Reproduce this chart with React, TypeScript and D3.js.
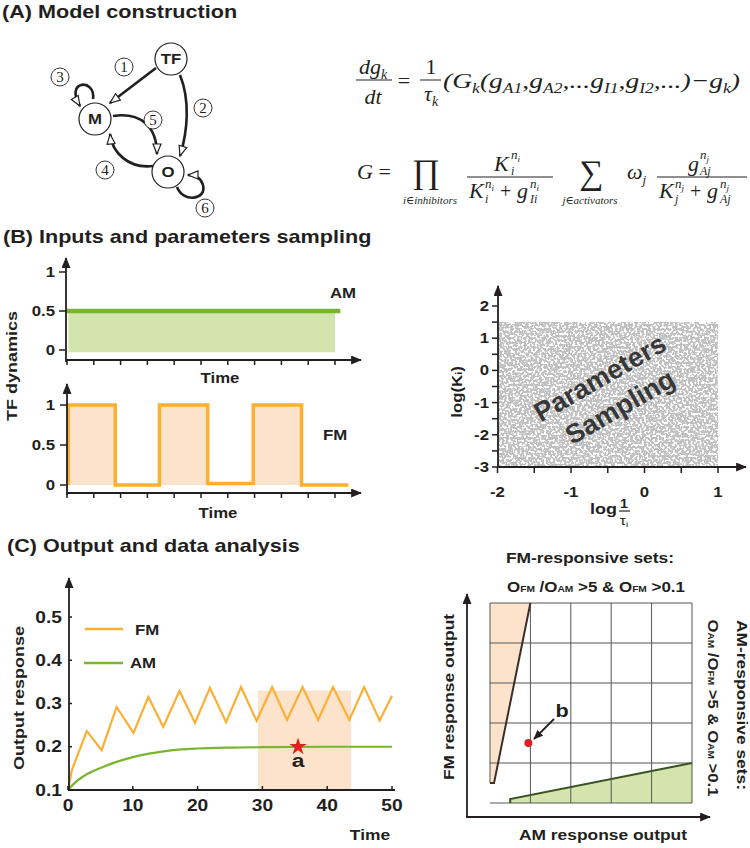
import React from 'react';
import * as d3 from 'd3';

const SANS = "'Liberation Sans', Arial, Helvetica, sans-serif";
const SERIF = "'Liberation Serif', 'Times New Roman', 'DejaVu Serif', serif";
const INK = '#231f20';
const ORANGE = '#fbb034';
const PEACH = '#fde3cc';
const GREEN = '#7ab531';
const GREEN_FILL = '#d3e5ad';
const RED = '#e31e24';
const SX = 1.2;

// ---------- Panel B: inputs ----------
const bTimeTicks = [0, 1, 2, 3, 4, 5, 6, 7, 8, 9, 10];
const amTicks = [0, 0.5, 1];
const amTicksLabels = ['0', '0.5', '1'];
const amTime = [-0.05, 10.2];
const amLevel = [0.5, 0.5];
const amFillTime = [0.05, 10];
const amFillLow = -0.03;
const fmTime = [0.05, 0.05, 1.8, 1.8, 3.45, 3.45, 5.25, 5.25, 6.95, 6.95, 8.75, 8.75, 10.5];
const fmLevel = [0, 1, 1, 0, 0, 1, 1, 0.02, 0.02, 1, 1, 0, 0];
const fmPulseStart = [0.05, 3.45, 6.95];
const fmPulseEnd = [1.8, 5.25, 8.75];

// ---------- Panel B: parameter sampling ----------
const logTauRange = [-2, 1];
const logKRange = [-3, 1.5];
const sampXTicks = [-2, -1.5, -1, -0.5, 0, 0.5, 1];
const sampYTicks = [-3, -2.5, -2, -1.5, -1, -0.5, 0, 0.5, 1, 1.5, 2];

// ---------- Panel C: output ----------
const outTimeTicks = [0, 10, 20, 30, 40, 50];
const outValueTicks = [0.1, 0.2, 0.3, 0.4, 0.5];
const fmOutT = [0, 0.6, 2.9, 5.2, 7.5, 10.1, 12.4, 14.7, 17.2, 19.6, 21.9, 24.4, 26.7, 29.1, 31.5, 33.8, 36.2, 38.6, 40.9, 43.4, 45.7, 48.1, 50];
const fmOutV = [0.1, 0.146, 0.236, 0.192, 0.292, 0.232, 0.315, 0.246, 0.329, 0.255, 0.336, 0.257, 0.338, 0.26, 0.338, 0.262, 0.338, 0.262, 0.338, 0.262, 0.338, 0.261, 0.318];
const amOutT = [0, 1, 2.5, 5, 7.5, 10, 12.5, 15, 17.5, 20, 25, 30, 40, 50];
const amOutV = [0.1, 0.116, 0.133, 0.151, 0.165, 0.176, 0.184, 0.19, 0.194, 0.196, 0.198, 0.199, 0.2, 0.2];
const windowT = [29.3, 43.7];
const windowTop = 0.33;
const pointA = { t: 35.5, v: 0.2 };

// ---------- Panel C: classification ----------
const gridTicks = [0, 0.2, 0.4, 0.6, 0.8, 1];
const ratioThreshold = 5;
const minOutput = 0.1;
const pointB = { am: 0.19, fm: 0.3 };

function T({ x, y, children, size = 14, anchor = 'start', weight = 700, rot = 0, family = SANS, fill = INK, sx = SX, italic = false }: any) {
  return (
    <text transform={`translate(${x},${y}) rotate(${rot}) scale(${sx},1)`} fontSize={size} textAnchor={anchor}
      fontWeight={weight} fontFamily={family} fill={fill} fontStyle={italic ? 'italic' : 'normal'}>{children}</text>
  );
}

function SubText({ x, y, parts, size, subSize, textLength }: any) {
  let level = 0;
  return (
    <text x={x} y={y} fontFamily={SERIF} fontStyle="italic" fontSize={size} fill={INK}
      textLength={textLength} lengthAdjust="spacingAndGlyphs">
      {parts.map(([s, sub]: [string, boolean], i: number) => {
        const target = sub ? 5 : 0;
        const dy = target - level;
        level = target;
        return <tspan key={i} dy={dy} fontSize={sub ? subSize : size}>{s}</tspan>;
      })}
    </text>
  );
}

function Circled({ x, y, n }: any) {
  return (
    <g>
      <circle cx={x} cy={y} r={9} fill="white" stroke={INK} strokeWidth={0.9} />
      <text x={x} y={y + 5} textAnchor="middle" fontFamily={SERIF} fontSize={15} fill={INK}>{n}</text>
    </g>
  );
}

function Node({ x, y, label }: any) {
  return (
    <g>
      <circle cx={x} cy={y} r={16} fill="white" stroke={INK} strokeWidth={1.2} />
      <T x={x} y={y + 5} size={14} anchor="middle">{label}</T>
    </g>
  );
}

export default function App() {
  // scales
  const xB = d3.scaleLinear().domain([0, 10]).range([67, 335]);
  const yAM = d3.scaleLinear().domain([0, 1]).range([350, 272]);
  const yFM = d3.scaleLinear().domain([0, 1]).range([485, 405]);
  const xS = d3.scaleLinear().domain([-2, 1]).range([497.5, 718]);
  const yS = d3.scaleLinear().domain([-3, 2]).range([467, 306]);
  const xC = d3.scaleLinear().domain([0, 50]).range([68, 392]);
  const yC = d3.scaleLinear().domain([0.1, 0.5]).range([790, 617]);
  const xR = d3.scaleLinear().domain([0, 1]).range([490, 692]);
  const yR = d3.scaleLinear().domain([0, 1]).range([803, 603]);

  const amLine = d3.line<number>().x((d, i) => xB(amTime[i])).y(d => yAM(d))(amLevel) || '';
  const amArea = d3.area<number>().x(d => xB(d)).y0(yAM(amFillLow)).y1(yAM(0.5))(amFillTime) || '';
  const fmLine = d3.line<number>().x((d, i) => xB(fmTime[i])).y(d => yFM(d))(fmLevel) || '';

  const fmOutPath = d3.line<number>().x((d, i) => xC(fmOutT[i])).y(d => yC(d))(fmOutV) || '';
  const amOutPath = d3.line<number>().x((d, i) => xC(amOutT[i])).y(d => yC(d)).curve(d3.curveMonotoneX)(amOutV) || '';
  const star = d3.symbol().type(d3.symbolStar).size(95)() || '';

  const fmPoly: [number, number][] = [[0, 1], [1 / ratioThreshold, 1], [minOutput / ratioThreshold, minOutput], [0, minOutput]];
  const fmEdge: [number, number][] = [[1 / ratioThreshold, 1], [minOutput / ratioThreshold, minOutput], [0, minOutput]];
  const amPoly: [number, number][] = [[minOutput, 0], [minOutput, minOutput / ratioThreshold], [1, 1 / ratioThreshold], [1, 0]];
  const amEdge: [number, number][] = [[minOutput, 0], [minOutput, minOutput / ratioThreshold], [1, 1 / ratioThreshold]];
  const rLine = d3.line<[number, number]>().x(d => xR(d[0])).y(d => yR(d[1]));

  const eq1Parts: [string, boolean][] = [
    ['(G', false], ['k', true], ['(g', false], ['A1', true], [',g', false], ['A2', true], [',...g', false],
    ['I1', true], [',g', false], ['I2', true], [',...)\u2212g', false], ['k', true], [')', false],
  ];

  const axisStroke = { stroke: INK, strokeWidth: 1.8, fill: 'none' };

  return (
    <svg width={750} height={848} style={{ position: 'absolute', left: 0, top: 0, background: 'white' }}>
      <defs>
        <marker id="hollow" viewBox="0 0 12 10" refX="11" refY="5" markerWidth="12" markerHeight="10" orient="auto" markerUnits="userSpaceOnUse">
          <path d="M1,1 L11,5 L1,9 Z" fill="white" stroke={INK} strokeWidth={1.2} />
        </marker>
        <marker id="solid" viewBox="0 0 12 10" refX="11" refY="5" markerWidth="12" markerHeight="9" orient="auto" markerUnits="userSpaceOnUse">
          <path d="M0,0 L12,5 L0,10 Z" fill={INK} />
        </marker>
        <marker id="solidSmall" viewBox="0 0 12 10" refX="11" refY="5" markerWidth="10" markerHeight="8" orient="auto" markerUnits="userSpaceOnUse">
          <path d="M0,0 L12,5 L0,10 Z" fill={INK} />
        </marker>
        <filter id="speckle" x="0%" y="0%" width="100%" height="100%">
          <feTurbulence type="fractalNoise" baseFrequency="0.45" numOctaves="1" seed="7" result="n" />
          <feColorMatrix in="n" type="matrix" values="0 0 0 0 0.53  0 0 0 0 0.53  0 0 0 0 0.53  12 0 0 0 -5.0" />
        </filter>
      </defs>

      {/* ================= Panel A ================= */}
      <T x={2} y={18} size={18}>(A) Model construction</T>

      {/* network */}
      <g fill="none" stroke={INK} strokeWidth={2.6}>
        <path d="M156,68 L110,103" markerEnd="url(#hollow)" />
        <path d="M180,75 C190,100 188,130 180,156" markerEnd="url(#hollow)" />
        <path d="M93,99 C96,78 64,80 80,106" markerEnd="url(#hollow)" />
        <path d="M153,166 C128,169 112,152 110,134" markerEnd="url(#hollow)" />
        <path d="M113,116 C140,112 157,126 157,154" markerEnd="url(#hollow)" />
        <path d="M177,187 C183,203 207,200 203,185 C201,178 196,175 188,175" markerEnd="url(#hollow)" />
      </g>
      <Node x={171} y={59} label="TF" />
      <Node x={95} y={119} label="M" />
      <Node x={168} y={172} label="O" />
      <Circled x={124} y={67} n="1" />
      <Circled x={203} y={108} n="2" />
      <Circled x={60} y={77} n="3" />
      <Circled x={105} y={170} n="4" />
      <Circled x={153} y={120} n="5" />
      <Circled x={205} y={208} n="6" />

      {/* equation 1 */}
      <g fill={INK} fontFamily={SERIF}>
        <text x={373} y={74} textAnchor="middle" fontStyle="italic" fontSize={22}>dg<tspan dy={5} fontSize={14}>k</tspan></text>
        <line x1={356} x2={392} y1={80} y2={80} stroke={INK} strokeWidth={1} />
        <text x={373} y={104} textAnchor="middle" fontStyle="italic" fontSize={22}>dt</text>
        <text x={404} y={88} textAnchor="middle" fontSize={22}>=</text>
        <text x={431} y={74} textAnchor="middle" fontSize={22}>1</text>
        <line x1={420} x2={441} y1={80} y2={80} stroke={INK} strokeWidth={1} />
        <text x={424} y={101} fontStyle="italic" fontSize={22}>τ<tspan dy={5} fontSize={14}>k</tspan></text>
      </g>
      <SubText x={443} y={88} parts={eq1Parts} size={22} subSize={14} textLength={297} />

      {/* equation 2 */}
      <g fill={INK} fontFamily={SERIF}>
        <text x={357} y={179} fontStyle="italic" fontSize={22}>G<tspan fontStyle="normal"> =</tspan></text>
        <text x={426} y={183} textAnchor="middle" fontSize={34}>∏</text>
        <text x={430} y={204} textAnchor="middle" fontStyle="italic" fontSize={11}>i∈inhibitors</text>
        {/* fraction 1 */}
        <text x={494} y={171} fontStyle="italic" fontSize={22}>K</text>
        <text x={511} y={159} fontStyle="italic" fontSize={13}>n<tspan dy={3} fontSize={9}>i</tspan></text>
        <text x={511} y={175} fontStyle="italic" fontSize={12}>i</text>
        <line x1={467} x2={553} y1={177} y2={177} stroke={INK} strokeWidth={1} />
        <text x={469} y={198} fontStyle="italic" fontSize={22}>K</text>
        <text x={485} y={188} fontStyle="italic" fontSize={13}>n<tspan dy={3} fontSize={9}>i</tspan></text>
        <text x={485} y={203} fontStyle="italic" fontSize={12}>i</text>
        <text x={500} y={198} fontSize={20}>+</text>
        <text x={517} y={198} fontStyle="italic" fontSize={22}>g</text>
        <text x={530} y={188} fontStyle="italic" fontSize={13}>n<tspan dy={3} fontSize={9}>i</tspan></text>
        <text x={530} y={203} fontStyle="italic" fontSize={12}>Ii</text>
        {/* sum */}
        <text x={591} y={184} textAnchor="middle" fontSize={34}>∑</text>
        <text x={590} y={204} textAnchor="middle" fontStyle="italic" fontSize={11}>j∈activators</text>
        <text x={627} y={179} fontStyle="italic" fontSize={22}>ω<tspan dy={5} fontSize={13}>j</tspan></text>
        {/* fraction 2 */}
        <text x={688} y={171} fontStyle="italic" fontSize={22}>g</text>
        <text x={700} y={159} fontStyle="italic" fontSize={13}>n<tspan dy={3} fontSize={9}>j</tspan></text>
        <text x={700} y={175} fontStyle="italic" fontSize={12}>Aj</text>
        <line x1={657} x2={747} y1={177} y2={177} stroke={INK} strokeWidth={1} />
        <text x={659} y={198} fontStyle="italic" fontSize={22}>K</text>
        <text x={675} y={188} fontStyle="italic" fontSize={13}>n<tspan dy={3} fontSize={9}>j</tspan></text>
        <text x={675} y={203} fontStyle="italic" fontSize={12}>j</text>
        <text x={690} y={198} fontSize={20}>+</text>
        <text x={707} y={198} fontStyle="italic" fontSize={22}>g</text>
        <text x={720} y={188} fontStyle="italic" fontSize={13}>n<tspan dy={3} fontSize={9}>j</tspan></text>
        <text x={720} y={203} fontStyle="italic" fontSize={12}>Aj</text>
      </g>

      {/* ================= Panel B ================= */}
      <T x={3} y={243} size={18}>(B) Inputs and parameters sampling</T>

      {/* AM input */}
      <path d={amArea} fill={GREEN_FILL} />
      <path d={amLine} fill="none" stroke={GREEN} strokeWidth={4.5} />
      <line x1={66} x2={66} y1={362} y2={258} {...axisStroke} markerEnd="url(#solid)" />
      <line x1={66} x2={361} y1={360} y2={360} {...axisStroke} markerEnd="url(#solid)" />
      {bTimeTicks.map(t => <line key={'ba' + t} x1={xB(t)} x2={xB(t)} y1={360} y2={365} stroke={INK} strokeWidth={1.5} />)}
      {amTicks.map((v, i) => (
        <g key={'amt' + v}>
          <line x1={59} x2={66} y1={yAM(v)} y2={yAM(v)} stroke={INK} strokeWidth={1.5} />
          <T x={55} y={yAM(v) + 5} anchor="end">{amTicksLabels[i]}</T>
        </g>
      ))}
      <T x={330} y={298}>AM</T>
      <T x={220} y={383} anchor="middle">Time</T>
      <T x={17} y={366} rot={-90} anchor="middle" size={15}>TF dynamics</T>

      {/* FM input */}
      {fmPulseStart.map((s, i) => (
        <rect key={'p' + i} x={xB(s)} y={yFM(1)} width={xB(fmPulseEnd[i]) - xB(s)} height={yFM(0) - yFM(1)} fill={PEACH} />
      ))}
      <path d={fmLine} fill="none" stroke={ORANGE} strokeWidth={3.5} strokeLinejoin="miter" />
      <line x1={67} x2={67} y1={495} y2={384} {...axisStroke} markerEnd="url(#solid)" />
      <line x1={67} x2={361} y1={493} y2={493} {...axisStroke} markerEnd="url(#solid)" />
      {bTimeTicks.map(t => <line key={'bf' + t} x1={xB(t)} x2={xB(t)} y1={493} y2={498} stroke={INK} strokeWidth={1.5} />)}
      {amTicks.map((v, i) => (
        <g key={'fmt' + v}>
          <line x1={60} x2={67} y1={yFM(v)} y2={yFM(v)} stroke={INK} strokeWidth={1.5} />
          <T x={55} y={yFM(v) + 5} anchor="end">{amTicksLabels[i]}</T>
        </g>
      ))}
      <T x={335} y={440} anchor="middle">FM</T>
      <T x={218} y={518} anchor="middle">Time</T>

      {/* parameters sampling */}
      <rect x={xS(logTauRange[0]) + 1} y={yS(logKRange[1])} width={xS(logTauRange[1]) - xS(logTauRange[0]) - 1}
        height={yS(logKRange[0]) - yS(logKRange[1])} fill="#888" filter="url(#speckle)" />
      <g transform="translate(600,378) rotate(-30)">
        <text x={0} y={9} textAnchor="middle" fontFamily={SANS} fontWeight={700} fontSize={27} fill="#383838">Parameters</text>
      </g>
      <g transform="translate(620,407) rotate(-30)">
        <text x={0} y={9} textAnchor="middle" fontFamily={SANS} fontWeight={700} fontSize={27} fill="#383838">Sampling</text>
      </g>
      <line x1={498} x2={498} y1={468} y2={286} {...axisStroke} markerEnd="url(#solid)" />
      <line x1={497} x2={746} y1={467} y2={467} {...axisStroke} markerEnd="url(#solid)" />
      {sampYTicks.map(v => (
        <g key={'sy' + v}>
          <line x1={492} x2={498} y1={yS(v)} y2={yS(v)} stroke={INK} strokeWidth={1.5} />
          {Number.isInteger(v) && <T x={489} y={yS(v) + 5} anchor="end">{v < 0 ? '-' + Math.abs(v) : String(v)}</T>}
        </g>
      ))}
      {sampXTicks.map(v => (
        <g key={'sx' + v}>
          <line x1={xS(v)} x2={xS(v)} y1={467} y2={473} stroke={INK} strokeWidth={1.5} />
          {Number.isInteger(v) && <T x={xS(v)} y={497} anchor="middle">{v < 0 ? '-' + Math.abs(v) : String(v)}</T>}
        </g>
      ))}
      <T x={462} y={392} rot={-90} anchor="middle">log(K<tspan fontSize={9}>i</tspan>)</T>
      <T x={590} y={514} size={15}>log</T>
      <T x={624} y={508} size={12} anchor="middle">1</T>
      <line x1={619} x2={630} y1={511} y2={511} stroke={INK} strokeWidth={1.2} />
      <T x={624} y={525} size={13} anchor="middle" weight={400}>τ<tspan fontSize={8} dy={2}>i</tspan></T>

      {/* ================= Panel C ================= */}
      <T x={7} y={552} size={18}>(C) Output and data analysis</T>

      {/* output time course */}
      <rect x={xC(windowT[0])} y={yC(windowTop)} width={xC(windowT[1]) - xC(windowT[0])} height={yC(0.1) - yC(windowTop)} fill={PEACH} />
      <path d={amOutPath} fill="none" stroke={GREEN} strokeWidth={2.2} />
      <path d={fmOutPath} fill="none" stroke={ORANGE} strokeWidth={2.2} strokeLinejoin="miter" />
      <line x1={69} x2={69} y1={791} y2={578} {...axisStroke} markerEnd="url(#solid)" />
      <line x1={68} x2={395} y1={790} y2={790} {...axisStroke} />
      {outTimeTicks.map(t => (
        <g key={'ot' + t}>
          <line x1={xC(t)} x2={xC(t)} y1={786} y2={790} stroke={INK} strokeWidth={1.5} />
          <T x={xC(t)} y={811} anchor="middle" size={16}>{String(t)}</T>
        </g>
      ))}
      {outValueTicks.map(v => (
        <g key={'ov' + v}>
          <line x1={69} x2={72} y1={yC(v)} y2={yC(v)} stroke={INK} strokeWidth={1.5} />
          <T x={62} y={yC(v) + 5.5} anchor="end" size={16}>{v.toFixed(1)}</T>
        </g>
      ))}
      <line x1={85} x2={123} y1={629} y2={629} stroke={ORANGE} strokeWidth={2.5} />
      <T x={135} y={635}>FM</T>
      <line x1={84} x2={123} y1={663} y2={663} stroke={GREEN} strokeWidth={2.5} />
      <T x={130} y={668}>AM</T>
      <path d={star} transform={`translate(${xC(pointA.t)},${yC(pointA.v)})`} fill={RED} />
      <T x={xC(pointA.t)} y={767} anchor="middle" size={19}>a</T>
      <T x={370} y={840} anchor="middle" size={14.5}>Time</T>
      <T x={24} y={698} rot={-90} anchor="middle" size={15}>Output response</T>

      {/* classification */}
      <T x={590} y={563} anchor="middle" size={14.5}>FM-responsive sets:</T>
      <text x={596} y={592} textAnchor="middle" fontFamily={SANS} fontWeight={700} fontSize={15} fill={INK}
        textLength={178} lengthAdjust="spacingAndGlyphs">
        O<tspan fontSize={9}>FM</tspan> /O<tspan fontSize={9}>AM</tspan> &gt;5 &amp; O<tspan fontSize={9}>FM</tspan> &gt;0.1
      </text>
      <path d={rLine(fmPoly) + 'Z'} fill={PEACH} />
      <path d={rLine(amPoly) + 'Z'} fill={GREEN_FILL} />
      {gridTicks.map(v => (
        <g key={'g' + v}>
          <line x1={xR(v)} x2={xR(v)} y1={yR(1)} y2={v === 0 ? yR(minOutput) : yR(0)} stroke="#555" strokeWidth={1} />
          <line x1={xR(0)} x2={xR(1)} y1={yR(v)} y2={yR(v)} stroke="#555" strokeWidth={1} />
        </g>
      ))}
      <path d={rLine(fmEdge) || ''} fill="none" stroke="#3d2f28" strokeWidth={2} />
      <path d={rLine(amEdge) || ''} fill="none" stroke="#3b5223" strokeWidth={2} />
      <circle cx={xR(pointB.am)} cy={yR(pointB.fm)} r={4} fill={RED} />
      <line x1={554} x2={534} y1={719} y2={739} stroke={INK} strokeWidth={1.8} markerEnd="url(#solidSmall)" />
      <T x={562} y={717} anchor="middle" size={18}>b</T>
      <line x1={467} x2={467} y1={818} y2={594} {...axisStroke} markerEnd="url(#solid)" />
      <line x1={466} x2={710} y1={817} y2={817} {...axisStroke} markerEnd="url(#solid)" />
      <T x={603} y={840} anchor="middle" size={14.5}>AM response output</T>
      <T x={454} y={697} rot={-90} anchor="middle" size={14.5}>FM response output</T>
      <T x={737} y={705} rot={90} anchor="middle" size={14.5}>AM-responsive sets:</T>
      <text transform="translate(708,708) rotate(90)" textAnchor="middle" fontFamily={SANS} fontWeight={700} fontSize={15} fill={INK}
        textLength={177} lengthAdjust="spacingAndGlyphs">
        O<tspan fontSize={9}>AM</tspan> /O<tspan fontSize={9}>FM</tspan> &gt;5 &amp; O<tspan fontSize={9}>AM</tspan> &gt;0.1
      </text>
    </svg>
  );
}
